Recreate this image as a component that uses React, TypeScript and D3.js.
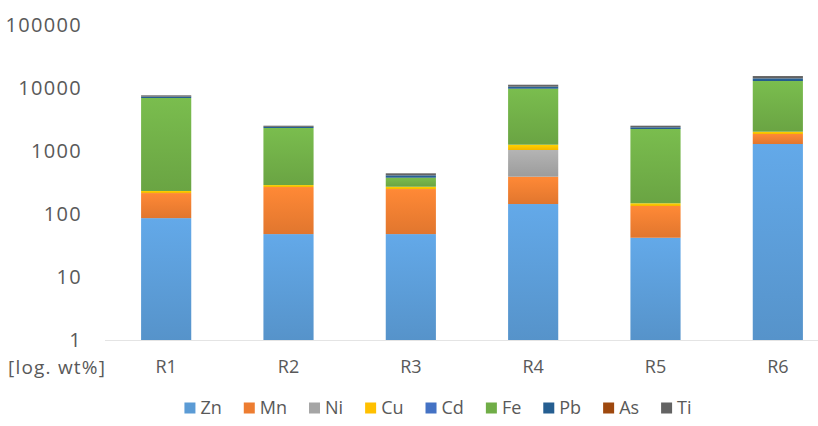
import React, { useEffect, useRef } from "react";
import * as d3 from "d3";

const categories = ["R1", "R2", "R3", "R4", "R5", "R6"];
const elements = ["Zn", "Mn", "Ni", "Cu", "Cd", "Fe", "Pb", "As", "Ti"];
const colors = ["#5B9BD5", "#ED7D31", "#A5A5A5", "#FFC000", "#4472C4", "#70AD47", "#255E91", "#9E480E", "#636363"];

const Zn = [86, 48, 48, 144, 42, 1292];
const Mn = [129, 220, 201, 247, 92, 570];
const Ni = [0, 0, 0, 646, 0, 0];
const Cu = [17, 20, 22, 222, 14, 162];
const Cd = [0, 0, 0, 0, 0, 0];
const Fe = [6705, 2030, 106, 8488, 2086, 10886];
const Pb = [350, 100, 33, 750, 145, 1300];
const As = [0, 0, 0, 0, 0, 0];
const Ti = [368, 105, 33, 783, 144, 1290];

const yTicks = [1, 10, 100, 1000, 10000, 100000];
const axisTitle = "[log. wt%]";

const series = [Zn, Mn, Ni, Cu, Cd, Fe, Pb, As, Ti];

export default function App() {
  const ref = useRef<SVGSVGElement>(null);
  useEffect(() => {
    const svg = d3.select(ref.current);
    svg.selectAll("*").remove();
    const font = "Open Sans, sans-serif";
    const textColor = "#595959";

    const x = d3.scaleBand().domain(categories).range([105, 839]).paddingInner(0.59).paddingOuter(0.295);
    const y = d3.scaleLog().domain([1, 100000]).range([340, 25]);

    const rows = categories.map((c, i) => {
      const r: any = { cat: c };
      elements.forEach((e, j) => (r[e] = series[j][i]));
      return r;
    });
    const stacked = d3.stack().keys(elements)(rows);

    const defs = svg.append("defs");
    elements.forEach((e, j) => {
      const c = d3.color(colors[j])!;
      const g = defs.append("linearGradient").attr("id", "g" + j).attr("x1", 0).attr("y1", 0).attr("x2", 0).attr("y2", 1);
      g.append("stop").attr("offset", "0%").attr("stop-color", (d3.color(colors[j]) as any).brighter(0.25).formatHex());
      g.append("stop").attr("offset", "100%").attr("stop-color", (c as any).darker(0.15).formatHex());
    });

    svg.append("line").attr("x1", 105).attr("x2", 818).attr("y1", y(1) + 0.5).attr("y2", y(1) + 0.5)
      .attr("stroke", "#e4e4e4").attr("stroke-width", 1);

    stacked.forEach((s, j) => {
      svg.append("g").selectAll("rect").data(s.filter((d) => d[1] - d[0] > 0)).join("rect")
        .attr("x", (d: any) => x(d.data.cat)!)
        .attr("width", x.bandwidth())
        .attr("y", (d) => y(d[1]))
        .attr("height", (d) => y(Math.max(d[0], 1)) - y(d[1]))
        .attr("fill", `url(#g${j})`);
    });

    svg.append("g").selectAll("text").data(yTicks).join("text")
      .attr("x", 82).attr("y", (d) => y(d)).attr("dy", "0.35em").attr("text-anchor", "end")
      .attr("font-family", font).attr("font-size", 20).attr("letter-spacing", 1.3).attr("fill", textColor)
      .text((d) => String(d));

    svg.append("g").selectAll("text").data(categories).join("text")
      .attr("x", (d) => x(d)! + x.bandwidth() / 2).attr("y", 367).attr("dy", "0.35em").attr("text-anchor", "middle")
      .attr("font-family", font).attr("font-size", 18).attr("fill", textColor)
      .text((d) => d);

    svg.append("text").attr("x", 8).attr("y", 367).attr("dy", "0.35em")
      .attr("font-family", font).attr("font-size", 19).attr("letter-spacing", 1.2).attr("fill", textColor).text(axisTitle);

    const lg = svg.append("g");
    let cx = 0;
    const gap = 22;
    elements.forEach((e, j) => {
      const g = lg.append("g").attr("transform", `translate(${cx},0)`);
      g.append("rect").attr("x", 0).attr("y", -5.5).attr("width", 11).attr("height", 11).attr("fill", colors[j]);
      const t = g.append("text").attr("x", 16).attr("y", 0).attr("dy", "0.35em")
        .attr("font-family", font).attr("font-size", 18).attr("fill", textColor).text(e);
      const w = 16 + (t.node() as SVGTextElement).getComputedTextLength();
      cx += w + gap;
    });
    const total = cx - gap;
    lg.attr("transform", `translate(${438 - total / 2},408)`);
  }, []);
  return (
    <div style={{ position: "absolute", left: 0, top: 0 }}>
      <svg ref={ref} width={818} height={426} style={{ display: "block", background: "#fff" }} />
    </div>
  );
}
